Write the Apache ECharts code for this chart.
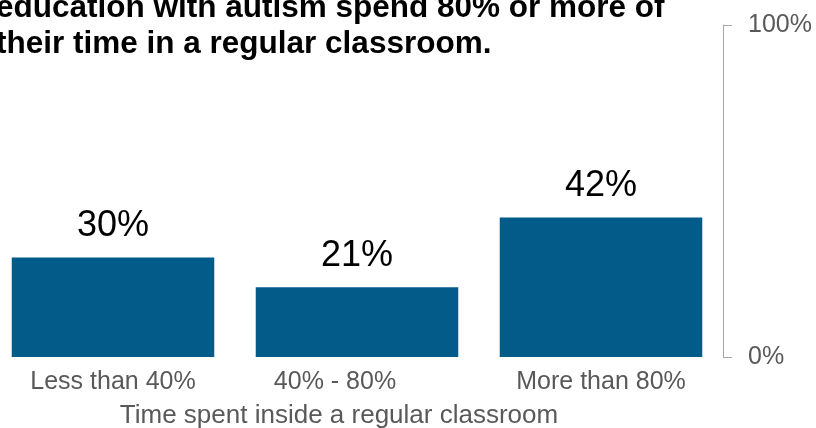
<!DOCTYPE html>
<html>
<head>
<meta charset="utf-8">
<script src="https://cdn.jsdelivr.net/npm/echarts@6/dist/echarts.min.js"></script>
<style>html,body{margin:0;padding:0;background:#fff;}#c{width:816px;height:428px;}</style>
</head>
<body>
<div id="c"></div>
<script>
const titleLines = ['education with autism spend 80% or more of', 'their time in a regular classroom.'];
const categories = ['Less than 40%', '40% - 80%', 'More than 80%'];
const values = [30, 21, 42];
const yTicks = [0, 100];
const xAxisName = 'Time spent inside a regular classroom';

const chart = echarts.init(document.getElementById('c'), null, {renderer: 'canvas'});
const FONT = '"Liberation Sans", Arial, sans-serif';
chart.setOption({
  animation: false,
  backgroundColor: '#ffffff',
  title: {
    text: titleLines.join('\n'),
    left: -4,
    top: -10,
    padding: 0,
    textStyle: {fontFamily: FONT, fontSize: 31.5, fontWeight: 'bold', color: '#000000', lineHeight: 36}
  },
  grid: {left: -9, right: 93, top: 25, bottom: 71, containLabel: false, outerBoundsMode: 'none'},
  xAxis: {
    type: 'category',
    data: categories,
    name: xAxisName,
    nameLocation: 'middle',
    nameGap: 46,
    nameTextStyle: {fontFamily: FONT, fontSize: 26, color: '#595959', padding: [0, 36, 0, 0]},
    axisLine: {show: false},
    axisTick: {show: false},
    axisLabel: {
      margin: 13,
      fontFamily: FONT,
      fontSize: 25,
      color: '#595959',
      interval: 0,
      formatter: function (v, i) { return i === 1 ? '{m|' + v + '}' : v; },
      rich: {m: {fontFamily: FONT, fontSize: 25, color: '#595959', padding: [0, 44, 0, 0]}}
    }
  },
  yAxis: {
    type: 'value',
    position: 'right',
    min: yTicks[0],
    max: yTicks[1],
    interval: yTicks[1] - yTicks[0],
    splitLine: {show: false},
    axisLine: {show: true, lineStyle: {color: '#a6a6a6', width: 1}},
    axisTick: {show: true, inside: false, length: 9, lineStyle: {color: '#a6a6a6', width: 1}},
    axisLabel: {margin: 25, fontFamily: FONT, fontSize: 25, color: '#595959', formatter: '{value}%'}
  },
  series: [{
    type: 'bar',
    data: values,
    barCategoryGap: '17%',
    itemStyle: {color: '#025b89'},
    label: {
      show: true,
      position: 'top',
      distance: 13,
      formatter: '{c}%',
      fontFamily: FONT,
      fontSize: 36,
      color: '#000000'
    }
  }]
});
</script>
</body>
</html>
